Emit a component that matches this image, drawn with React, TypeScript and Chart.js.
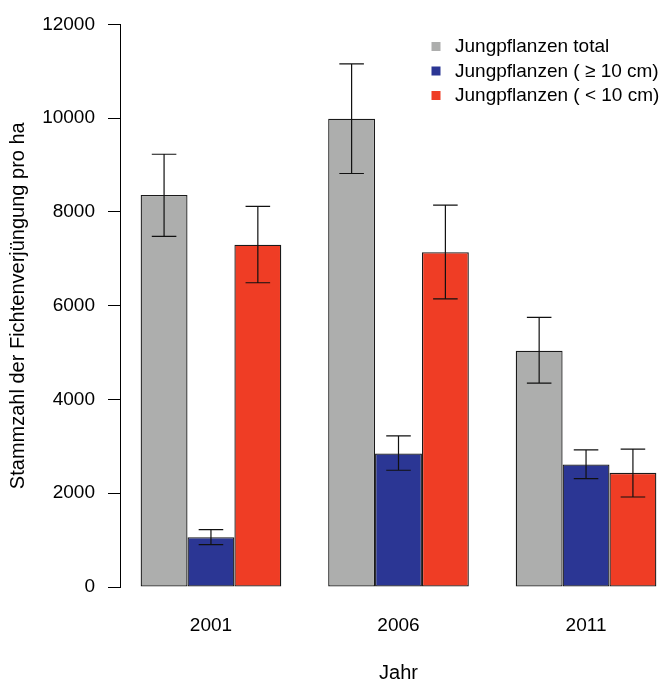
import React, { useEffect, useRef } from 'react';
import { Chart, registerables } from 'chart.js';

Chart.register(...registerables);

const FONT = '"Liberation Sans", Arial, Helvetica, sans-serif';

const years = [2001, 2006, 2011];
const seriesLabels = ['Jungpflanzen total', 'Jungpflanzen ( ≥ 10 cm)', 'Jungpflanzen ( < 10 cm)'];
const seriesColors = ['#ADAEAD', '#2B3694', '#EF3D25'];

const totalValues = [8360, 9990, 5040];
const totalLower = [7480, 8820, 4350];
const totalUpper = [9230, 11160, 5750];

const tallValues = [1060, 2850, 2615];
const tallLower = [905, 2490, 2310];
const tallUpper = [1225, 3225, 2925];

const smallValues = [7300, 7140, 2435];
const smallLower = [6490, 6145, 1920];
const smallUpper = [8120, 8145, 2940];

const yMin = 0;
const yMax = 12000;
const yStep = 2000;
const xMin = 1998.575;
const xMax = 2013.425;

const values = [totalValues, tallValues, smallValues];
const lowers = [totalLower, tallLower, smallLower];
const uppers = [totalUpper, tallUpper, smallUpper];

const errorBarPlugin = {
  id: 'errorBars',
  afterDatasetsDraw(chart: any) {
    const ctx = chart.ctx;
    const y = chart.scales.y;
    ctx.save();
    ctx.strokeStyle = '#111';
    ctx.lineWidth = 1.2;
    chart.data.datasets.forEach((_ds: any, i: number) => {
      const meta = chart.getDatasetMeta(i);
      meta.data.forEach((bar: any, j: number) => {
        const lo = y.getPixelForValue(lowers[i][j]);
        const hi = y.getPixelForValue(uppers[i][j]);
        const cap = bar.width * 0.262;
        ctx.beginPath();
        ctx.moveTo(bar.x, lo);
        ctx.lineTo(bar.x, hi);
        ctx.moveTo(bar.x - cap, lo);
        ctx.lineTo(bar.x + cap, lo);
        ctx.moveTo(bar.x - cap, hi);
        ctx.lineTo(bar.x + cap, hi);
        ctx.stroke();
      });
    });
    ctx.restore();
  },
};

const legendPlugin = {
  id: 'insetLegend',
  afterDraw(chart: any) {
    const ctx = chart.ctx;
    const x0 = 431.5;
    const yc0 = 46.5;
    const rowGap = 24.5;
    const sq = 9;
    ctx.save();
    ctx.font = `19px ${FONT}`;
    ctx.textAlign = 'left';
    ctx.textBaseline = 'alphabetic';
    seriesLabels.forEach((label, i) => {
      const yc = yc0 + i * rowGap;
      ctx.fillStyle = seriesColors[i];
      ctx.fillRect(x0, yc - sq / 2, sq, sq);
      ctx.fillStyle = '#000';
      ctx.fillText(label, 455, yc + 5.5);
    });
    ctx.restore();
  },
};

export default function App() {
  const ref = useRef<HTMLCanvasElement>(null);

  useEffect(() => {
    if (!ref.current) return;
    const chart = new Chart(ref.current, {
      type: 'bar',
      data: {
        datasets: seriesLabels.map((label, i) => ({
          label,
          data: years.map((yr, j) => ({ x: yr, y: values[i][j] })),
          backgroundColor: seriesColors[i],
          borderColor: '#1a1a1a',
          borderWidth: 1.3,
          borderSkipped: false,
          categoryPercentage: 0.75,
          barPercentage: 1,
        })),
      },
      options: {
        animation: false,
        responsive: false,
        devicePixelRatio: 1,
        layout: { padding: { left: 0, right: 0, top: 23, bottom: 0 } },
        plugins: { legend: { display: false }, tooltip: { enabled: false } },
        scales: {
          x: {
            type: 'linear',
            min: xMin,
            max: xMax,
            offset: false,
            bounds: 'data',
            afterBuildTicks: (s: any) => {
              s.ticks = years.map((v) => ({ value: v }));
            },
            afterFit: (s: any) => {
              s.height = 92;
            },
            grid: { display: false, drawTicks: false, offset: false },
            border: { display: false },
            ticks: {
              color: '#000',
              font: { family: FONT, size: 19 },
              padding: 27,
              maxRotation: 0,
              autoSkip: false,
              callback: (v: any) => String(v),
            },
            title: {
              display: true,
              text: 'Jahr',
              color: '#000',
              font: { family: FONT, size: 20, lineHeight: 1 },
              padding: { top: 0, bottom: -4 },
            },
          },
          y: {
            min: yMin,
            max: yMax,
            afterFit: (s: any) => {
              s.width = 120;
            },
            ticks: {
              stepSize: yStep,
              color: '#000',
              font: { family: FONT, size: 19 },
              padding: 13,
              callback: (v: any) => String(v),
            },
            grid: {
              drawOnChartArea: false,
              drawTicks: true,
              tickLength: 12,
              color: '#000',
              tickColor: '#000',
              lineWidth: 1,
            },
            border: { display: true, color: '#000', width: 1 },
            title: {
              display: true,
              text: 'Stammzahl der Fichtenverjüngung pro ha',
              color: '#000',
              font: { family: FONT, size: 20, lineHeight: 1 },
              padding: { top: 8, bottom: 0 },
            },
          },
        },
      },
      plugins: [errorBarPlugin, legendPlugin],
    } as any);
    return () => chart.destroy();
  }, []);

  return (
    <div style={{ position: 'absolute', left: 0, top: 0, width: 669, height: 679, overflow: 'hidden' }}>
      <canvas
        ref={ref}
        width={677}
        height={679}
        style={{ display: 'block', width: 677, height: 679 }}
      />
    </div>
  );
}
